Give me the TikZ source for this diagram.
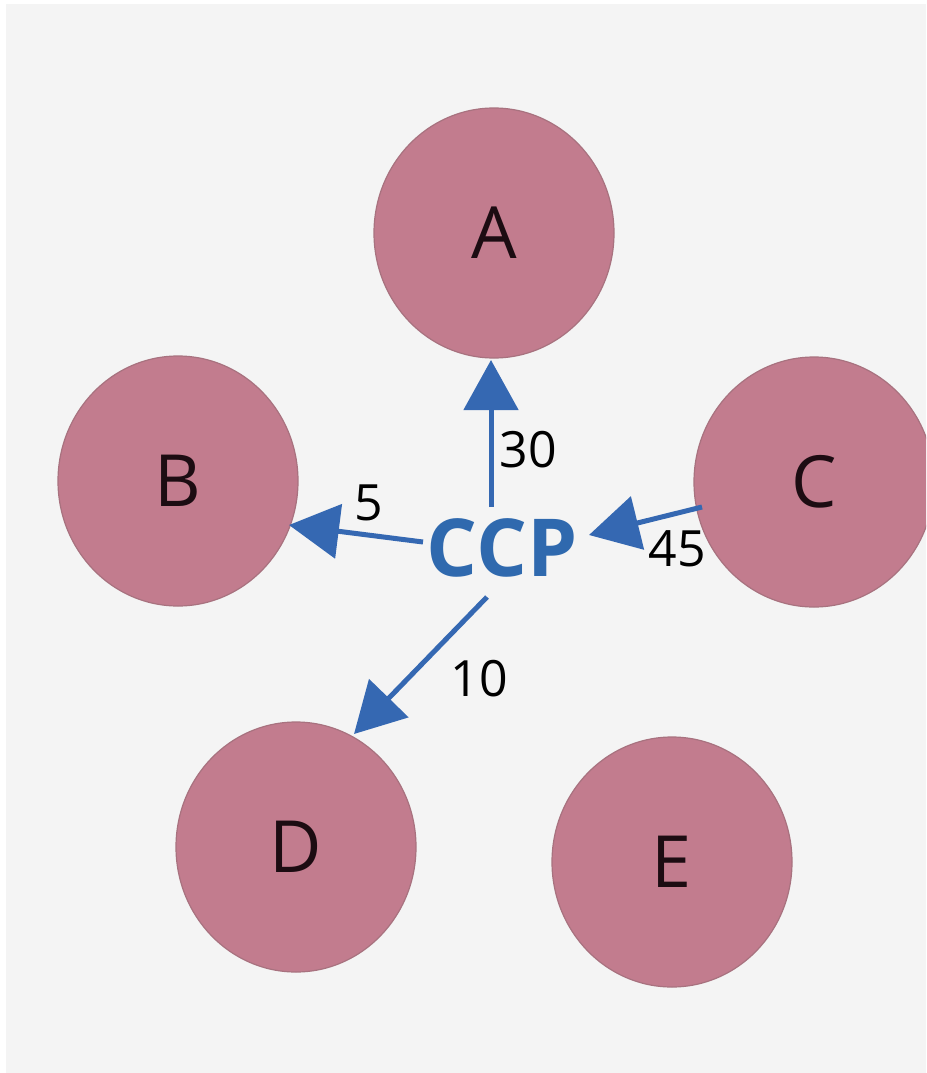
\documentclass[tikz,border=0pt]{standalone}
\usepackage{fontspec}
\setmainfont{Open Sans}
\usetikzlibrary{arrows.meta,shapes.geometric}
\definecolor{bggray}{HTML}{F4F4F4}
\definecolor{rose}{HTML}{C27C8E}
\definecolor{roseedge}{HTML}{A8727F}
\definecolor{ccpblue}{HTML}{2F69AE}
\definecolor{arrowblue}{HTML}{3568B2}
\definecolor{letterdark}{HTML}{1C0C12}
\tikzset{
  bubble/.style={ellipse, minimum width=240pt, minimum height=250pt, inner sep=0pt,
    fill=rose, draw=roseedge, line width=1.2pt, text=letterdark,
    font=\fontsize{72}{72}\selectfont},
  flow/.style={draw=arrowblue, line width=5pt,
    -{Triangle[length=50pt,width=54pt]}},
  weight/.style={text=black, inner sep=0pt, font=\fontsize{50}{50}\selectfont},
  hub/.style={text=ccpblue, inner sep=0pt, font=\bfseries\fontsize{80}{80}\selectfont}
}
\begin{document}
\begin{tikzpicture}[x=1pt,y=-1pt]
\useasboundingbox (0,0) rectangle (926,1073);
\fill[white] (0,0) rectangle (926,1073);
\fill[bggray] (6,4) rectangle (926,1073);
\begin{scope}
\clip (0,0) rectangle (926,1073);
\node[bubble] (A) at (494,233) {A};
\node[bubble] (B) at (178,481) {B};
\node[bubble] (C) at (814,482) {C};
\node[bubble] (D) at (296,847) {D};
\node[bubble] (E) at (672,862) {E};
\end{scope}
\node[hub] (ccp) at (502,548) {CCP};
\coordinate (sA) at (491,507);
\coordinate (tA) at (491,360);
\coordinate (sB) at (423,542);
\coordinate (tB) at (289,525);
\coordinate (sC) at (702,507);
\coordinate (tC) at (589,535);
\coordinate (sD) at (487,597);
\coordinate (tD) at (354,734);
\draw[flow] (sA) -- (tA);
\draw[flow] (sB) -- (tB);
\draw[flow] (sC) -- (tC);
\draw[flow] (sD) -- (tD);
\node[weight] (w30) at (528,450) {30};
\node[weight] (w5) at (369,503) {5};
\node[weight] (w45) at (677,549) {45};
\node[weight] (w10) at (479,679) {10};
\end{tikzpicture}
\end{document}
